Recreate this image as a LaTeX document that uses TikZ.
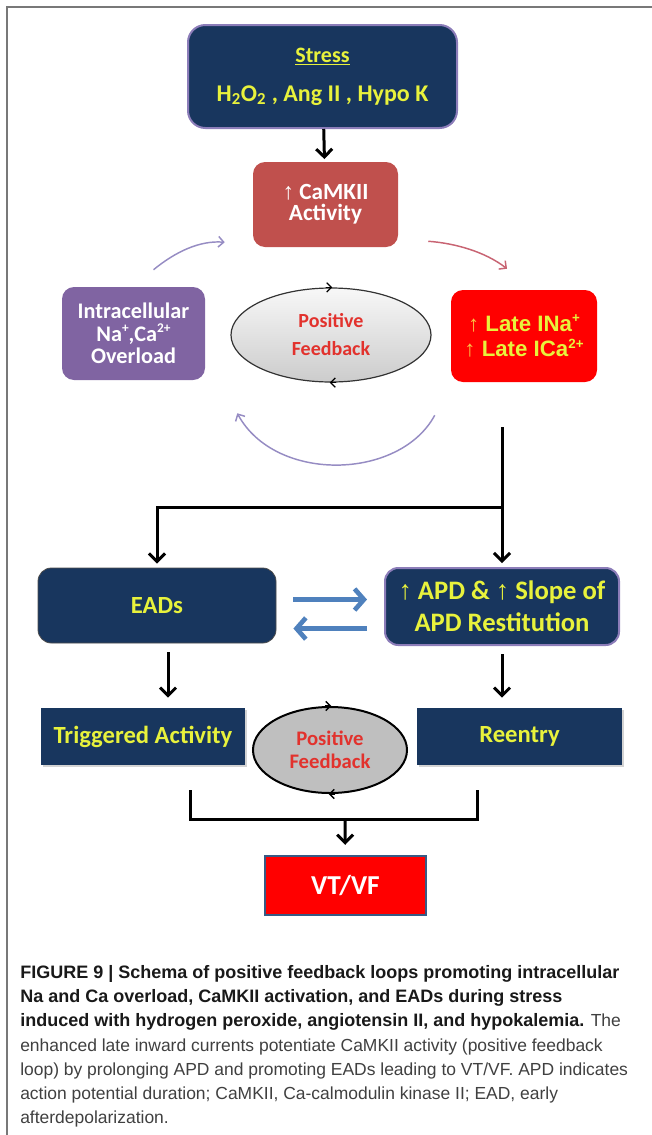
\documentclass[tikz,border=0pt]{standalone}
\usepackage{fontspec}
\setmainfont{Carlito}
\newfontfamily\arialf{Liberation Sans}
\usetikzlibrary{arrows.meta,shapes.geometric,calc,shadows}

\definecolor{navy}{RGB}{24,54,94}
\definecolor{lavender}{RGB}{140,125,185}
\definecolor{hiyellow}{RGB}{232,242,60}
\definecolor{camkred}{RGB}{192,80,77}
\definecolor{overpurple}{RGB}{128,100,162}
\definecolor{fbred}{RGB}{226,50,45}
\definecolor{arrowgold}{RGB}{250,195,70}
\definecolor{loopviolet}{RGB}{150,140,195}
\definecolor{looprose}{RGB}{200,100,115}
\definecolor{swapblue}{RGB}{79,129,189}
\definecolor{framegray}{RGB}{120,120,120}
\definecolor{captext}{RGB}{64,64,64}

\newcommand{\smallsup}[1]{\raisebox{0.38em}{\fontsize{10}{10}\selectfont #1}}
\newcommand{\capbf}[1]{{\bfseries\fontsize{13.5}{18.2}\selectfont\color{black!90}#1}}

\begin{document}
\begin{tikzpicture}[x=0.75pt,y=0.75pt,yscale=-1,
  navybox/.style={rectangle, fill=navy, text=hiyellow, align=center, font=\bfseries\fontsize{18.5}{22}\selectfont},
  blkline/.style={line width=2.25pt},
  blkarrow/.style={line width=2.25pt, -{Straight Barb[length=6pt,width=12pt]}},
  loopline/.style={line width=1.1pt, -{Straight Barb[length=4pt,width=8pt]}},
  swaparrow/.style={swapblue, line width=3.5pt, -{Straight Barb[length=7pt,width=16pt]}},
  fbtip/.style={line width=1pt, -{Straight Barb[length=3.5pt,width=7pt]}}]

\useasboundingbox (0,0) rectangle (652,1135);

%Frame
\draw [framegray, line width=1.5pt] (7,1135) -- (7,7) -- (652,7) ;

%Shape: Rounded Rect (stress)
\node [navybox, draw=lavender, line width=1.5pt, rounded corners=13pt, minimum width=201.75pt, minimum height=77.25pt, font=\bfseries\fontsize{16.5}{19}\selectfont] (stress) at (322.5,76.5) {\underline{Stress}\\[10pt]{\fontsize{18}{19}\selectfont H\textsubscript{2}O\textsubscript{2} , Ang II , Hypo K}};
%Shape: Rounded Rect (camkii)
\node [rectangle, rounded corners=9pt, fill=camkred, text=white, align=center, minimum width=108.75pt, minimum height=63.75pt, font=\bfseries\fontsize{17.4}{16}\selectfont] (camk) at (325.5,204.5) {{\arialf\mdseries ↑} CaMKII\\Activity};
%Shape: Rounded Rect (overload)
\node [rectangle, rounded corners=9pt, fill=overpurple, text=white, align=center, minimum width=107.25pt, minimum height=69.75pt, font=\bfseries\fontsize{16.7}{17}\selectfont] (intra) at (133.5,333.5) {Intracellular\\Na\smallsup{+},Ca\smallsup{2+}\\Overload};
%Shape: Ellipse
\node [ellipse, draw=black!80, line width=0.9pt, top color=gray!6, bottom color=gray!40, minimum width=150pt, minimum height=70.5pt, text=fbred, align=center, font=\bfseries\fontsize{15}{21}\selectfont] (fbtop) at (331,335) {Positive\\Feedback};
%Shape: Rounded Rect (late currents)
\node [rectangle, rounded corners=9pt, fill=red, text=hiyellow, align=center, minimum width=109.5pt, minimum height=69pt, font=\arialf\bfseries\fontsize{16.7}{19}\selectfont] (late) at (524,336) {{\mdseries\color{arrowgold}↑} Late INa\smallsup{+}\\{\mdseries\color{arrowgold}↑} Late ICa\smallsup{2+}};

\draw [fbtip] ([xshift=-4pt]fbtop.north) -- ([xshift=1pt]fbtop.north) ;
\draw [fbtip] ([xshift=4pt]fbtop.south) -- ([xshift=-1pt]fbtop.south) ;

%Curve Lines
\draw [loopline, loopviolet] ($(intra.north)+(20,-17)$) .. controls +(22,-18) and +(-25,-2) .. ($(camk.south west)+(-28,-5)$) ;
\draw [loopline, looprose] ($(camk.south east)+(30,-6)$) .. controls +(27,2) and +(-22,-17) .. ($(late.north)+(-17,-21)$) ;
\draw [loopline, loopviolet] ($(late.south west)+(-16,33)$) .. controls +(-35,65) and +(38,70) .. ($(intra.south east)+(32,33)$) ;

%Shape: Rounded Rect (eads)
\node [navybox, draw=black!70, line width=0.6pt, rounded corners=10pt, minimum width=178.5pt, minimum height=56.25pt] (ead) at (157,605.5) {EADs};
%Shape: Rounded Rect (apd)
\node [navybox, draw=lavender, line width=1.5pt, rounded corners=10pt, minimum width=175.5pt, minimum height=57.75pt, font=\bfseries\fontsize{20}{24}\selectfont] (apd) at (502,606.5) {{\arialf ↑} APD \& {\arialf ↑} Slope of\\APD Restitution};

%Straight Lines
\coordinate (trunk) at (502,427);
\coordinate (fork) at (502,507);
\draw [blkline] (trunk) -- (fork) ;
\draw [blkarrow, shorten >=3pt] (fork) -- (apd.north) ;
\draw [blkarrow, shorten >=3pt] (fork) -| (ead.north) ;
\draw [blkarrow, shorten >=2pt] (stress) -- (camk) ;

\draw [swaparrow] ($(ead.east)+(17,-6)$) -- ($(apd.west)+(-17,-7)$) ;
\draw [swaparrow] ($(apd.west)+(-17,22)$) -- ($(ead.east)+(17,23)$) ;

%Shape: Rectangle (triggered, reentry)
\node [navybox, drop shadow={opacity=0.35, shadow xshift=1.5pt, shadow yshift=-1.5pt}, minimum width=153pt, minimum height=42.75pt] (trig) at (143,736.5) {Triggered Activity};
\node [navybox, drop shadow={opacity=0.35, shadow xshift=1.5pt, shadow yshift=-1.5pt}, minimum width=153.75pt, minimum height=42.75pt] (reen) at (519.5,736.5) {Reentry};
%Shape: Ellipse
\node [ellipse, draw=black, line width=1.5pt, fill=gray!50, minimum width=115.5pt, minimum height=64.5pt, text=fbred, align=center, font=\bfseries\fontsize{15.5}{17}\selectfont] (fbbot) at (330,750) {Positive\\Feedback};
\draw [fbtip] ([xshift=-4pt]fbbot.north) -- ([xshift=1pt]fbbot.north) ;
\draw [fbtip] ([xshift=4pt]fbbot.south) -- ([xshift=-1pt]fbbot.south) ;

\draw [blkarrow] ($(ead.south)+(11,9)$) -- ($(trig.north)+(25,-10)$) ;
\draw [blkarrow] ($(apd.south)+(0,8)$) -- ($(reen.north)+(-17.5,-10)$) ;

%Shape: Rectangle (vt/vf)
\node [rectangle, fill=red, draw=swapblue!70!black, line width=0.8pt, text=white, font=\bfseries\fontsize{20.5}{22}\selectfont, minimum width=120.75pt, minimum height=44.25pt] (vt) at (345.5,885.5) {VT/VF};

\coordinate (bl) at (190,790);
\coordinate (br) at (477,790);
\coordinate (bm) at (345,819);
\draw [blkline] (bl) |- (bm) -| (br) ;
\draw [blkarrow, shorten >=8pt] (bm) -- (vt) ;

%Caption
\node [anchor=north west, align=left, inner sep=0pt, text=captext, font=\arialf\fontsize{13.1}{18.2}\selectfont] (caption) at (20,965) {%
\capbf{FIGURE 9 | Schema of positive feedback loops promoting intracellular}\\
\capbf{Na and Ca overload, CaMKII activation, and EADs during stress}\\
\capbf{induced with hydrogen peroxide, angiotensin II, and hypokalemia.} The\\
enhanced late inward currents potentiate CaMKII activity (positive feedback\\
loop) by prolonging APD and promoting EADs leading to VT/VF. APD indicates\\
action potential duration; CaMKII, Ca-calmodulin kinase II; EAD, early\\
afterdepolarization.};

\end{tikzpicture}
\end{document}
